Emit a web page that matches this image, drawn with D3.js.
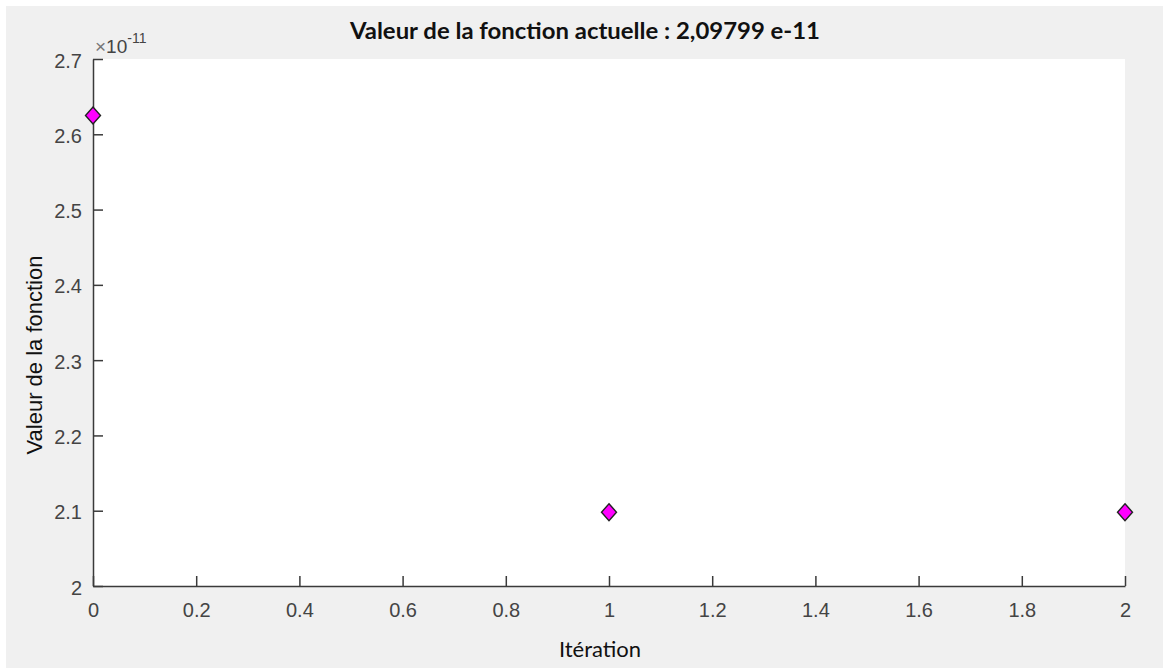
<!DOCTYPE html>
<html><head><meta charset="utf-8">
<script src="https://cdn.jsdelivr.net/npm/d3@7"></script>
<style>body{margin:0;background:#fff}svg{display:block}</style>
</head><body>
<script>
const iterations = [0, 1, 2];
const values = [2.625e-11, 2.09799e-11, 2.09799e-11];
const xTicks = [0, 0.2, 0.4, 0.6, 0.8, 1, 1.2, 1.4, 1.6, 1.8, 2];
const yTicks = [2, 2.1, 2.2, 2.3, 2.4, 2.5, 2.6, 2.7];
const titleText = "Valeur de la fonction actuelle : 2,09799 e-11";
const xLabel = "Itération";
const yLabel = "Valeur de la fonction";

const W = 1163, H = 668;
const m = {left: 93, top: 59, right: 1125, bottom: 586};
const svg = d3.select("body").append("svg").attr("width", W).attr("height", H);
svg.append("rect").attr("x", 6).attr("y", 6).attr("width", W - 6).attr("height", H - 6).attr("fill", "#f0f0f0");
svg.append("rect").attr("x", m.left).attr("y", m.top).attr("width", m.right - m.left).attr("height", m.bottom - m.top).attr("fill", "#fff");

const x = d3.scaleLinear().domain([0, 2]).range([m.left, m.right]);
const y = d3.scaleLinear().domain([2e-11, 2.7e-11]).range([m.bottom, m.top]);

const axisColor = "#3a3a3a";
const tickFont = "'Liberation Sans', Arial, sans-serif";
const gx = svg.append("g").attr("transform", `translate(0,${m.bottom})`)
  .call(d3.axisBottom(x).tickValues(xTicks).tickSizeInner(-10).tickSizeOuter(0).tickPadding(14)
    .tickFormat(d => String(d)));
const gy = svg.append("g").attr("transform", `translate(${m.left},0)`)
  .call(d3.axisLeft(y).tickValues(yTicks.map(v => v * 1e-11)).tickSizeInner(-10).tickSizeOuter(0).tickPadding(11)
    .tickFormat(d => String(Math.round(d * 1e12) / 10)));
[gx, gy].forEach(g => {
  g.select(".domain").attr("stroke", axisColor).attr("stroke-width", 1.5);
  g.selectAll(".tick line").attr("stroke", axisColor).attr("stroke-width", 1.5);
  g.selectAll(".tick text").attr("fill", "#444").style("font-family", tickFont).style("font-size", "20px");
});
gx.selectAll(".tick text").attr("dy", null).attr("y", 31);
gy.selectAll(".tick text").attr("dy", "0.4em");

// exponent label
const ex = svg.append("text").attr("x", m.left + 2).attr("y", 53)
  .style("font-family", tickFont).style("font-size", "19px").attr("fill", "#444");
ex.append("tspan").text("\u00d7").attr("fill", "#777");
ex.append("tspan").text("10");
ex.append("tspan").text("-11").attr("dy", -10).style("font-size", "14px");

svg.append("text").attr("x", 585).attr("y", 39).attr("text-anchor", "middle")
  .attr("textLength", 470).attr("lengthAdjust", "spacingAndGlyphs")
  .style("font-family", "Lato, 'Open Sans', sans-serif").style("font-weight", "bold").style("font-size", "22px")
  .attr("fill", "#111").text(titleText);

svg.append("text").attr("x", 600).attr("y", 657).attr("text-anchor", "middle")
  .style("font-family", "Lato, 'Open Sans', sans-serif").style("font-size", "22px")
  .attr("fill", "#111").text(xLabel);

svg.append("text").attr("transform", `translate(42,355) rotate(-90)`).attr("text-anchor", "middle")
  .style("font-family", tickFont).style("font-size", "22px")
  .attr("fill", "#111").text(yLabel);

const diamondType = {draw(ctx) { ctx.moveTo(0, -8.5); ctx.lineTo(7.5, 0); ctx.lineTo(0, 8.5); ctx.lineTo(-7.5, 0); ctx.closePath(); }};
svg.append("g").selectAll("path").data(iterations).join("path")
  .attr("transform", (d, i) => `translate(${x(d)},${y(values[i])})`)
  .attr("d", d3.symbol().type(diamondType)()).attr("fill", "#ff00ff").attr("stroke", "#222").attr("stroke-width", 1.4);
</script>
</body></html>
